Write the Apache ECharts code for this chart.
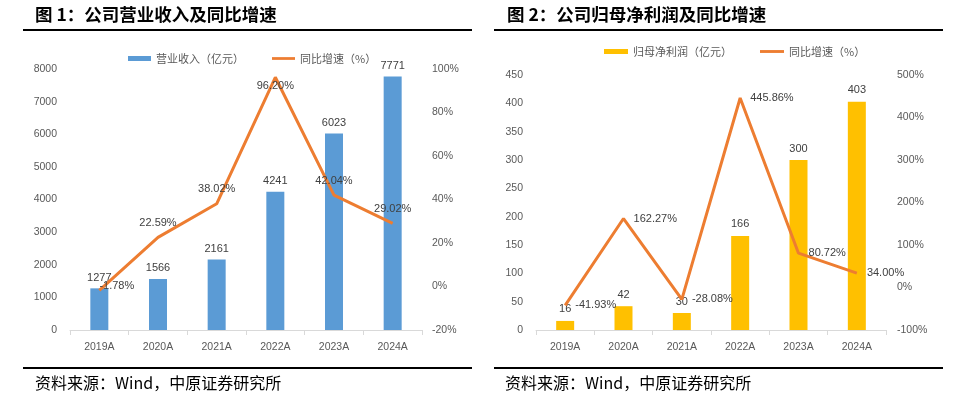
<!DOCTYPE html>
<html>
<head>
<meta charset="utf-8">
<script src="https://cdn.jsdelivr.net/npm/echarts@6/dist/echarts.min.js"></script>
<style>
html,body{margin:0;padding:0;background:#fff;}
#c{width:958px;height:398px;}
</style>
</head>
<body>
<div id="c"></div>
<script>
// ---- Data ----
var categories = ['2019A', '2020A', '2021A', '2022A', '2023A', '2024A'];
var revenue = [1277, 1566, 2161, 4241, 6023, 7771];          // 营业收入（亿元）
var revenueGrowth = [-1.78, 22.59, 38.02, 96.20, 42.04, 29.02]; // 同比增速（%）
var profit = [16, 42, 30, 166, 300, 403];                      // 归母净利润（亿元）
var profitGrowth = [-41.93, 162.27, -28.08, 445.86, 80.72, 34.00]; // 同比增速（%）
var title1 = '图 1：公司营业收入及同比增速';
var title2 = '图 2：公司归母净利润及同比增速';
var sourceText = '资料来源：Wind，中原证券研究所';

var chart = echarts.init(document.getElementById('c'), null, {renderer: 'canvas'});
var NUM = 'Liberation Sans';
var CJK = 'Noto Sans CJK SC';
var BLUE = '#5B9BD5', YELLOW = '#FFC000', ORANGE = '#ED7D31';
var AX = '#D9D9D9', LBL = '#595959', DLBL = '#404040';
var LINE_ICON = 'path://M0,0 L25,0 L25,3 L0,3 Z';

function catAxis(gi) {
  return {
    type: 'category', gridIndex: gi, data: categories, boundaryGap: true,
    axisLine: {show: true, lineStyle: {color: AX, width: 1}},
    axisTick: {show: true, interval: 0, alignWithLabel: false, length: 5, lineStyle: {color: AX}},
    axisLabel: {color: LBL, fontFamily: NUM, fontSize: 10.5, margin: 12},
    splitLine: {show: false}
  };
}
function valAxis(gi, min, max, interval, pos, fmt, margin) {
  return {
    type: 'value', gridIndex: gi, min: min, max: max, interval: interval, position: pos,
    axisLine: {show: false}, axisTick: {show: false}, splitLine: {show: false},
    axisLabel: {color: LBL, fontFamily: NUM, fontSize: 10.5, margin: margin, formatter: fmt}
  };
}
var pct = function (v) { return v + '%'; };
var plain = function (v) { return String(v); };

var leftGrowthData = revenueGrowth.map(function (v, i) {
  var item = {value: v};
  if (i === 0) item.label = {position: 'right', distance: 0, offset: [0, -4]};
  if (i === 3) item.label = {position: 'top', distance: 0, offset: [0, 14]};
  return item;
});

var lineLabel = function (p) { return p.value.toFixed(2) + '%'; };

var option = {
  animation: false,
  backgroundColor: '#fff',
  grid: [
    {left: 70, right: 536, top: 69, bottom: 68},
    {left: 536, right: 72, top: 75, bottom: 68}
  ],
  xAxis: [catAxis(0), catAxis(1)],
  yAxis: [
    valAxis(0, 0, 8000, 1000, 'left', plain, 13),
    valAxis(0, -20, 100, 20, 'right', pct, 10),
    valAxis(1, 0, 450, 50, 'left', plain, 13),
    valAxis(1, -100, 500, 100, 'right', pct, 11)
  ],
  legend: [
    {
      left: 123, top: 48, itemWidth: 23, itemHeight: 5, itemGap: 28,
      textStyle: {color: LBL, fontFamily: CJK, fontSize: 11},
      data: [{name: '营业收入（亿元）', icon: 'rect'}, {name: '同比增速（%）', icon: LINE_ICON}]
    },
    {
      left: 599, top: 41, itemWidth: 24, itemHeight: 5, itemGap: 28,
      textStyle: {color: LBL, fontFamily: CJK, fontSize: 11},
      data: [{name: '归母净利润（亿元）', icon: 'rect'}, {name: '同比增速（%） ', icon: LINE_ICON}]
    }
  ],
  series: [
    {
      name: '营业收入（亿元）', type: 'bar', xAxisIndex: 0, yAxisIndex: 0,
      data: revenue, barWidth: 18, itemStyle: {color: BLUE},
      label: {show: true, position: 'top', distance: 5, color: DLBL, fontFamily: NUM, fontSize: 11}
    },
    {
      name: '同比增速（%）', type: 'line', xAxisIndex: 0, yAxisIndex: 1,
      data: leftGrowthData, symbol: 'circle', symbolSize: 0.1, showSymbol: true,
      lineStyle: {color: ORANGE, width: 3}, itemStyle: {color: ORANGE},
      label: {show: true, position: 'top', distance: 9, color: DLBL, fontFamily: NUM, fontSize: 11,
        formatter: lineLabel}
    },
    {
      name: '归母净利润（亿元）', type: 'bar', xAxisIndex: 1, yAxisIndex: 2,
      data: profit, barWidth: 18, itemStyle: {color: YELLOW},
      label: {show: true, position: 'top', distance: 6, color: DLBL, fontFamily: NUM, fontSize: 11}
    },
    {
      name: '同比增速（%） ', type: 'line', xAxisIndex: 1, yAxisIndex: 3,
      data: profitGrowth, symbol: 'circle', symbolSize: 0.1, showSymbol: true,
      lineStyle: {color: ORANGE, width: 3}, itemStyle: {color: ORANGE},
      label: {show: true, position: 'right', distance: 10, color: DLBL, fontFamily: NUM, fontSize: 11,
        formatter: lineLabel}
    }
  ],
  graphic: [
    {type: 'text', left: 35, top: 6, style: {text: title1, fill: '#000', font: 'bold 17.5px "Noto Sans CJK SC"'}},
    {type: 'text', left: 507, top: 6, style: {text: title2, fill: '#000', font: 'bold 17.5px "Noto Sans CJK SC"'}},
    {type: 'line', shape: {x1: 23, y1: 30, x2: 472, y2: 30}, style: {stroke: '#000', lineWidth: 2}},
    {type: 'line', shape: {x1: 494, y1: 30, x2: 943, y2: 30}, style: {stroke: '#000', lineWidth: 2}},
    {type: 'line', shape: {x1: 23, y1: 368, x2: 472, y2: 368}, style: {stroke: '#000', lineWidth: 2}},
    {type: 'line', shape: {x1: 494, y1: 368, x2: 943, y2: 368}, style: {stroke: '#000', lineWidth: 2}},
    {type: 'text', left: 35, top: 375, style: {text: sourceText, fill: '#000', font: '16px "Noto Sans CJK SC"'}},
    {type: 'text', left: 505, top: 375, style: {text: sourceText, fill: '#000', font: '16px "Noto Sans CJK SC"'}}
  ]
};
chart.setOption(option);
</script>
</body>
</html>
